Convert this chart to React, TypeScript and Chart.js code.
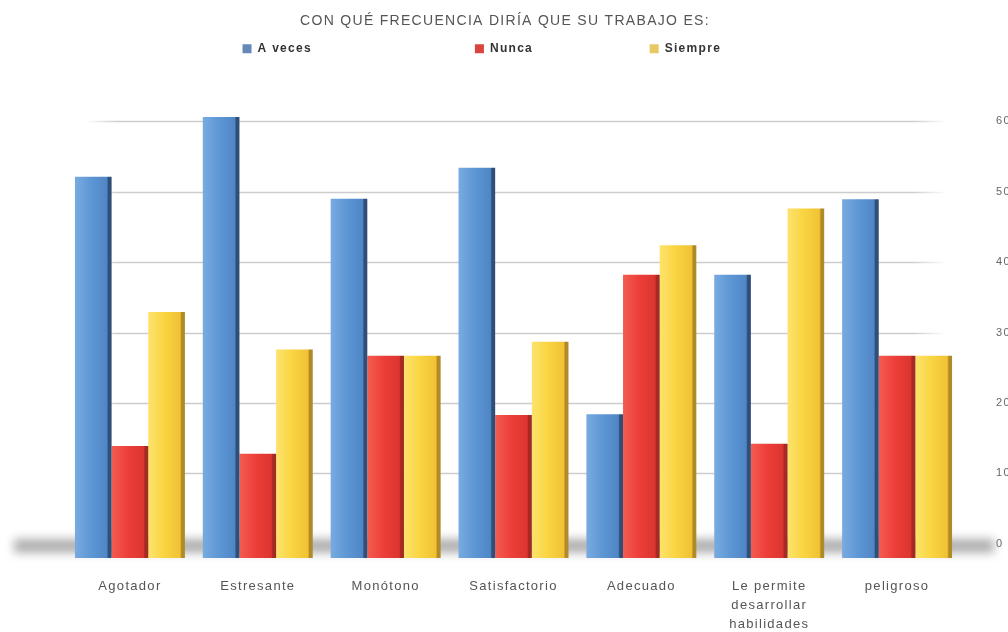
import React, { useEffect, useRef } from 'react';
import { Chart, registerables } from 'chart.js';

Chart.register(...registerables);

const TITLE = 'CON QUÉ FRECUENCIA DIRÍA QUE SU TRABAJO ES:';
const CATEGORIES: (string | string[])[] = [
  'Agotador',
  'Estresante',
  'Monótono',
  'Satisfactorio',
  'Adecuado',
  ['Le permite', 'desarrollar', 'habilidades'],
  'peligroso',
];
const SERIES = ['A veces', 'Nunca', 'Siempre'];
const A_VECES = [52.1, 60.6, 49.0, 53.4, 18.4, 38.2, 48.9];
const NUNCA = [13.9, 12.8, 26.7, 18.3, 38.2, 14.2, 26.7];
const SIEMPRE = [32.9, 27.6, 26.7, 28.7, 42.4, 47.6, 26.7];
const Y_TICKS = [0, 10, 20, 30, 40, 50, 60];

const FONT = '"Liberation Sans", Arial, sans-serif';
const CAT_PCT = 0.86;
const LEGEND_COLORS = ['#6489b8', '#d9443e', '#e8c765'];
const STOPS = [
  ['#78abe0', '#5d96d5', '#4f86c6', '#2f4f78'],
  ['#f45c50', '#ec3e38', '#dc3530', '#a42a22'],
  ['#fde36c', '#f9d441', '#f0c234', '#b18a28'],
];
const LEGEND_TEXT_TARGETS = [203, 147, 101];

const barFill = (s: number) => (c: any) => {
  const chart = c.chart;
  const xs = chart.scales?.x;
  const flat = STOPS[s][1];
  if (!xs || c.dataIndex === undefined) return flat;
  const cw = (xs.right - xs.left) / CATEGORIES.length;
  const bw = (cw * CAT_PCT) / 3;
  const cx = xs.getPixelForValue(c.dataIndex) + (s - 1) * bw;
  if (!isFinite(cx) || !isFinite(bw) || bw <= 0) return flat;
  const g = chart.ctx.createLinearGradient(cx - bw / 2, 0, cx + bw / 2, 0);
  g.addColorStop(0, STOPS[s][0]);
  g.addColorStop(0.45, STOPS[s][1]);
  g.addColorStop(0.87, STOPS[s][2]);
  g.addColorStop(0.91, STOPS[s][3]);
  g.addColorStop(1, STOPS[s][3]);
  return g;
};

const decor = {
  id: 'decor',
  beforeLayout(chart: any) {
    chart.ctx.letterSpacing = '1.3px';
  },
  beforeDraw(chart: any) {
    chart.ctx.letterSpacing = '1.3px';
  },
  beforeDatasetsDraw(chart: any) {
    const { ctx, chartArea: a, scales } = chart;
    const y = scales.y;
    const y0 = y.getPixelForValue(0);
    ctx.save();
    ctx.filter = 'blur(5px)';
    ctx.fillStyle = 'rgba(150,150,150,0.75)';
    ctx.fillRect(14, y0 - 5, 980, 14);
    ctx.restore();

    ctx.save();
    const x1 = a.left + 18;
    const x2 = a.right - 14;
    for (const t of y.ticks) {
      if (t.value <= 0) continue;
      const py = Math.round(y.getPixelForValue(t.value)) + 0.5;
      const g = ctx.createLinearGradient(x1, 0, x2, 0);
      g.addColorStop(0, 'rgba(205,205,205,0)');
      g.addColorStop(0.04, 'rgba(205,205,205,1)');
      g.addColorStop(0.96, 'rgba(205,205,205,1)');
      g.addColorStop(1, 'rgba(205,205,205,0)');
      ctx.strokeStyle = g;
      ctx.lineWidth = 1.5;
      ctx.beginPath();
      ctx.moveTo(x1, py);
      ctx.lineTo(x2, py);
      ctx.stroke();
    }
    ctx.restore();
  },
};

export default function App() {
  const ref = useRef<HTMLCanvasElement>(null);

  useEffect(() => {
    const canvas = ref.current!;
    const series = [A_VECES, NUNCA, SIEMPRE];
    const chart = new Chart(canvas, {
      type: 'bar',
      data: {
        labels: CATEGORIES as any,
        datasets: series.map((d, i) => ({
          label: SERIES[i],
          data: d,
          backgroundColor: barFill(i) as any,
          borderWidth: 0,
          base: -2,
          categoryPercentage: CAT_PCT,
          barPercentage: 1,
          yAxisID: 'y',
        })),
      },
      options: {
        responsive: false,
        animation: false,
        layout: { padding: { top: 0, bottom: 5, left: 0, right: 0 } },
        plugins: {
          title: {
            display: true,
            text: TITLE,
            color: '#555',
            font: { family: FONT, size: 14, weight: 'normal' },
            padding: { top: 13, bottom: 3 },
          },
          legend: {
            display: true,
            labels: {
              boxWidth: 9,
              boxHeight: 9,
              padding: 10,
              color: '#333',
              font: { family: FONT, size: 12, weight: 'bold' },
              generateLabels: (ch: any) => {
                const ctx = ch.ctx;
                ctx.save();
                ctx.font = `bold 12px ${FONT}`;
                const items = SERIES.map((name, i) => {
                  let text = name;
                  let guard = 0;
                  while (ctx.measureText(text).width < LEGEND_TEXT_TARGETS[i] && guard < 200) {
                    text += ' ';
                    guard++;
                  }
                  return {
                    text,
                    fillStyle: LEGEND_COLORS[i],
                    strokeStyle: LEGEND_COLORS[i],
                    lineWidth: 0,
                    hidden: false,
                    datasetIndex: i,
                    fontColor: '#333',
                  };
                });
                ctx.restore();
                return items;
              },
            },
          },
          tooltip: { enabled: false },
        },
        scales: {
          x: {
            grid: { display: false },
            border: { display: false },
            ticks: {
              color: '#555',
              font: { family: FONT, size: 13, lineHeight: '19px' } as any,
              padding: 11,
              maxRotation: 0,
              autoSkip: false,
            },
          },
          yL: {
            type: 'linear',
            position: 'left',
            display: true,
            grid: { display: false },
            border: { display: false },
            ticks: { display: false },
            afterFit: (s: any) => {
              s.width = 66;
            },
          },
          y: {
            type: 'linear',
            position: 'right',
            min: -2,
            max: 68,
            grid: { display: false, drawTicks: false },
            border: { display: false },
            ticks: {
              stepSize: 10,
              padding: 35,
              color: '#666',
              font: { family: FONT, size: 11 },
            },
            afterBuildTicks: (s: any) => {
              s.ticks = Y_TICKS.map((v) => ({ value: v }));
            },
            afterFit: (s: any) => {
              s.width = 49;
            },
          },
        },
      },
      plugins: [decor],
    } as any);
    return () => chart.destroy();
  }, []);

  return (
    <div
      style={{
        position: 'fixed',
        left: 0,
        top: 0,
        width: 1008,
        height: 632,
        overflow: 'hidden',
        background: '#fff',
      }}
    >
      <canvas ref={ref} width={1010} height={650} style={{ display: 'block' }} />
    </div>
  );
}
